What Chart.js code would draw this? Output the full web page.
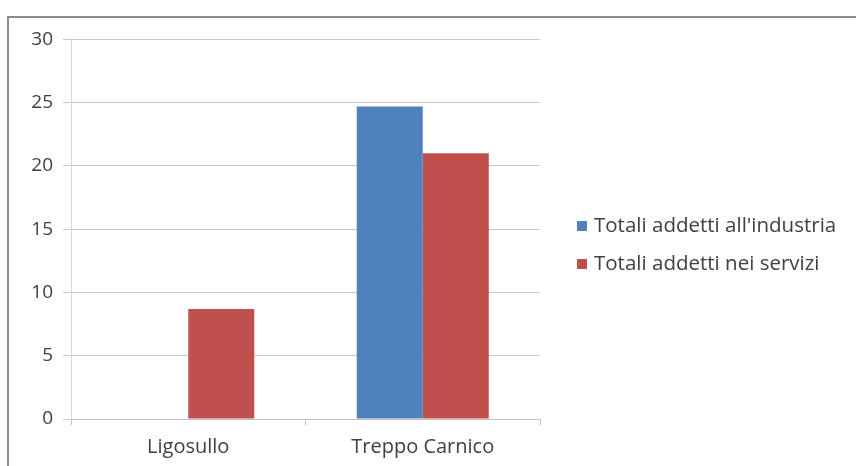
<!DOCTYPE html>
<html>
<head>
<meta charset="utf-8">
<script src="https://cdn.jsdelivr.net/npm/chart.js@4"></script>
<style>
    html, body { margin: 0; padding: 0; background: #fff; overflow: hidden; }
    #frame {
        position: absolute; left: 7px; top: 16px;
        width: 900px; height: 500px;
        border-left: 2px solid #8c8c8c; border-top: 2px solid #8c8c8c;
    }
    #wrap { position: absolute; left: 9px; top: 18px; width: 847px; height: 459px; }
    #legend { position: absolute; left: 577px; top: 210px; font-family: "Open Sans", sans-serif; font-size: 20.5px; color: #404040; }
    #legend div { height: 38px; line-height: 28px; white-space: nowrap; }
    #legend span { display: inline-block; width: 10px; height: 10px; margin-right: 7px; vertical-align: 1px; }
</style>
</head>
<body>
<div id="frame"></div>
<div id="wrap"><canvas id="chart"></canvas></div>
<div id="legend"></div>
<script>
// dati del grafico
const comuni = ['Ligosullo', 'Treppo Carnico'];
const addettiIndustria = [0, 24.7];
const addettiServizi = [8.7, 21.0];
const serieNomi = ["Totali addetti all'industria", 'Totali addetti nei servizi'];
const serieColori = ['#4f81bd', '#c0504d'];
const yTicks = [0, 5, 10, 15, 20, 25, 30];

const fontName = '"Open Sans", sans-serif';

const chart = new Chart(document.getElementById('chart'), {
    type: 'bar',
    data: {
        labels: comuni,
        datasets: [
            { label: serieNomi[0], data: addettiIndustria, backgroundColor: serieColori[0] },
            { label: serieNomi[1], data: addettiServizi, backgroundColor: serieColori[1] }
        ]
    },
    options: {
        responsive: true,
        maintainAspectRatio: false,
        animation: false,
        layout: { padding: { top: 11, right: 316, left: 10, bottom: 8 } },
        datasets: { bar: { categoryPercentage: 0.563, barPercentage: 1 } },
        plugins: {
            legend: { display: false },
            tooltip: { enabled: false }
        },
        scales: {
            x: {
                grid: { drawOnChartArea: false, drawTicks: true, tickLength: 6, color: '#bfbfbf', offset: true },
                border: { color: '#bfbfbf' },
                ticks: { color: '#404040', font: { family: fontName, size: 20 }, padding: 10 }
            },
            y: {
                min: 0, max: 30,
                afterBuildTicks: axis => { axis.ticks = yTicks.map(v => ({ value: v })); },
                afterFit: axis => { axis.width = 52; },
                grid: { color: '#c8c8c8', tickLength: 8 },
                border: { color: '#d9d9d9' },
                ticks: { color: '#404040', font: { family: fontName, size: 19 }, padding: 10 }
            }
        }
    }
});

// legenda (testo reale, costruita dai dataset)
const legend = document.getElementById('legend');
chart.data.datasets.forEach(ds => {
    const row = document.createElement('div');
    const box = document.createElement('span');
    box.style.background = ds.backgroundColor;
    row.appendChild(box);
    row.appendChild(document.createTextNode(ds.label));
    legend.appendChild(row);
});
</script>
</body>
</html>
